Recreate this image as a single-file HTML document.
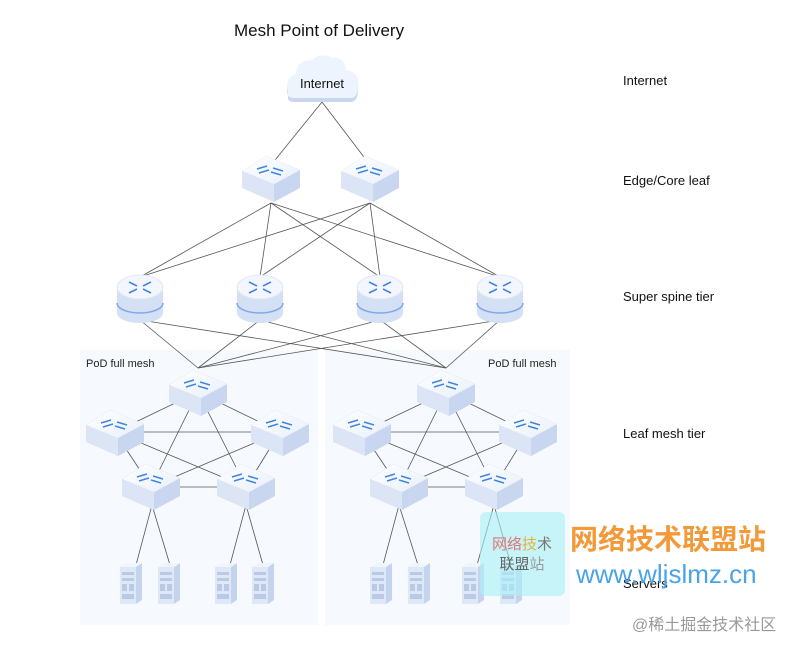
<!DOCTYPE html>
<html><head><meta charset="utf-8"><style>
html,body{margin:0;padding:0;background:#fff;}
svg{display:block;font-family:"Liberation Sans","Noto Sans CJK SC",sans-serif;}
</style></head><body>
<svg width="800" height="652" viewBox="0 0 800 652" xmlns="http://www.w3.org/2000/svg">
<defs>
<linearGradient id="top" x1="0" y1="0" x2="1" y2="1"><stop offset="0" stop-color="#ffffff"/><stop offset="1" stop-color="#e9f0fb"/></linearGradient>
<g id="sw">
  <polygon points="-29,-9 3,4 3,22 -29,8" fill="#dbe5f5"/>
  <polygon points="3,4 29,-10 29,8 3,22" fill="#c8d6ef"/>
  <polygon points="-29,-9 -5,-24 29,-10 3,4" fill="url(#top)" stroke="#e3ebf7" stroke-width="0.5"/>
  <g stroke="#3f86e0" stroke-width="1.6" fill="none">
    <line x1="-14" y1="-11" x2="-4" y2="-14"/><line x1="-12" y1="-7" x2="-2" y2="-10"/>
    <line x1="2" y1="-12" x2="12" y2="-9"/><line x1="0" y1="-8" x2="10" y2="-5"/>
  </g>
</g>
<g id="rt">
  <path d="M-23,0 L-23,26 A23,10 0 0 0 23,26 L23,0 Z" fill="#d4e0f4"/>
  <path d="M-23,16 A23,10 0 0 0 23,16" fill="none" stroke="#7fa8ee" stroke-width="1.5"/>
  <ellipse cx="0" cy="0" rx="23" ry="12" fill="#f3f7fd" stroke="#e1e9f6"/>
  <g stroke="#3f86e0" stroke-width="1.6">
    <line x1="-11" y1="-5" x2="-3" y2="-1"/><line x1="11" y1="-5" x2="3" y2="-1"/>
    <line x1="-11" y1="6" x2="-3" y2="2"/><line x1="11" y1="6" x2="3" y2="2"/>
  </g>
</g>
<g id="sv">
  <polygon points="0,4 16,4 16,41 0,41" fill="#dfe8f7"/>
  <polygon points="16,4 22,0 22,37 16,41" fill="#c5d4ee"/>
  <polygon points="0,4 6,0 22,0 16,4" fill="#f0f4fb"/>
  <g fill="#b9c9e6"><rect x="2" y="9" width="12" height="3"/><rect x="2" y="15" width="12" height="3"/><rect x="2" y="21" width="5" height="7"/><rect x="9" y="21" width="5" height="7"/><rect x="2" y="31" width="12" height="5"/></g>
</g>
</defs>

<text x="234" y="36" font-size="17" fill="#111">Mesh Point of Delivery</text>
<g font-size="13" fill="#111">
<text x="623" y="85">Internet</text>
<text x="623" y="185">Edge/Core leaf</text>
<text x="623" y="301">Super spine tier</text>
<text x="623" y="438">Leaf mesh tier</text>
<text x="623" y="588">Servers</text>
</g>

<rect x="80" y="350" width="238" height="275" fill="#f6f9fd"/>
<rect x="325" y="350" width="245" height="275" fill="#f6f9fd"/>
<text x="86" y="367" font-size="11" fill="#222">PoD full mesh</text>
<text x="488" y="367" font-size="11" fill="#222">PoD full mesh</text>

<g stroke="#555" stroke-width="0.8" fill="none">
<line x1="322" y1="102" x2="271" y2="165"/><line x1="322" y1="102" x2="370" y2="165"/>
<line x1="271" y1="203" x2="140" y2="277"/><line x1="271" y1="203" x2="260" y2="277"/><line x1="271" y1="203" x2="380" y2="277"/><line x1="271" y1="203" x2="500" y2="277"/>
<line x1="370" y1="203" x2="140" y2="277"/><line x1="370" y1="203" x2="260" y2="277"/><line x1="370" y1="203" x2="380" y2="277"/><line x1="370" y1="203" x2="500" y2="277"/>
<line x1="140" y1="320" x2="198" y2="368"/><line x1="260" y1="320" x2="198" y2="368"/><line x1="380" y1="320" x2="198" y2="368"/><line x1="500" y1="320" x2="198" y2="368"/>
<line x1="140" y1="320" x2="446" y2="368"/><line x1="260" y1="320" x2="446" y2="368"/><line x1="380" y1="320" x2="446" y2="368"/><line x1="500" y1="320" x2="446" y2="368"/>
<line x1="198" y1="392" x2="115" y2="432"/><line x1="198" y1="392" x2="280" y2="432"/><line x1="198" y1="392" x2="151" y2="487"/><line x1="198" y1="392" x2="246" y2="487"/>
<line x1="115" y1="432" x2="280" y2="432"/><line x1="115" y1="432" x2="151" y2="487"/><line x1="115" y1="432" x2="246" y2="487"/>
<line x1="280" y1="432" x2="151" y2="487"/><line x1="280" y1="432" x2="246" y2="487"/><line x1="151" y1="487" x2="246" y2="487"/>
<line x1="152" y1="505" x2="136" y2="565"/><line x1="152" y1="505" x2="170" y2="565"/><line x1="246" y1="505" x2="230" y2="565"/><line x1="246" y1="505" x2="263" y2="565"/>
<line x1="446" y1="392" x2="362" y2="432"/><line x1="446" y1="392" x2="528" y2="432"/><line x1="446" y1="392" x2="399" y2="487"/><line x1="446" y1="392" x2="494" y2="487"/>
<line x1="362" y1="432" x2="528" y2="432"/><line x1="362" y1="432" x2="399" y2="487"/><line x1="362" y1="432" x2="494" y2="487"/>
<line x1="528" y1="432" x2="399" y2="487"/><line x1="528" y1="432" x2="494" y2="487"/><line x1="399" y1="487" x2="494" y2="487"/>
<line x1="399" y1="505" x2="383" y2="565"/><line x1="399" y1="505" x2="418" y2="565"/><line x1="494" y1="505" x2="477" y2="565"/><line x1="494" y1="505" x2="511" y2="565"/>
</g>

<g>
<path d="M288,96 Q284,82 296,78 Q296,64 312,64 Q320,56 332,62 Q344,60 346,74 Q360,76 358,90 Q358,100 352,102 L294,102 Q287,102 288,96 Z" fill="#c9d8f0"/>
<path d="M288,92 Q284,78 296,74 Q296,60 312,60 Q320,52 332,58 Q344,56 346,70 Q360,72 358,86 Q358,96 352,98 L294,98 Q287,98 288,92 Z" fill="#eef4fd"/>
<text x="322" y="88" font-size="13" text-anchor="middle" fill="#111">Internet</text>
</g>

<use href="#sw" x="271" y="180"/><use href="#sw" x="370" y="180"/>
<use href="#rt" x="140" y="287"/><use href="#rt" x="260" y="287"/><use href="#rt" x="380" y="287"/><use href="#rt" x="500" y="287"/>

<use href="#sw" x="198" y="394"/><use href="#sw" x="115" y="434"/><use href="#sw" x="280" y="434"/><use href="#sw" x="151" y="488"/><use href="#sw" x="246" y="488"/>
<use href="#sw" x="446" y="394"/><use href="#sw" x="362" y="434"/><use href="#sw" x="528" y="434"/><use href="#sw" x="399" y="488"/><use href="#sw" x="494" y="488"/>

<use href="#sv" x="120" y="563"/><use href="#sv" x="158" y="563"/><use href="#sv" x="215" y="563"/><use href="#sv" x="252" y="563"/>
<use href="#sv" x="370" y="563"/><use href="#sv" x="408" y="563"/><use href="#sv" x="462" y="563"/><use href="#sv" x="500" y="563"/>

<rect x="480" y="512" width="85" height="84" rx="6" fill="#a8f0f6" opacity="0.6"/>
<text x="522" y="549" font-size="15" text-anchor="middle" fill="#d77">网络<tspan fill="#e8b23a">技</tspan><tspan fill="#777">术</tspan></text>
<text x="522" y="569" font-size="15" text-anchor="middle" fill="#666">联盟<tspan fill="#999">站</tspan></text>
<text x="570" y="549" font-size="28" font-weight="bold" fill="#f29a3a">网络技术联盟站</text>
<text x="576" y="583" font-size="26" fill="#4aa3e8">www.wljslmz.cn</text>
<text x="632" y="630" font-size="16" fill="#999">@稀土掘金技术社区</text>
</svg>
</body></html>
